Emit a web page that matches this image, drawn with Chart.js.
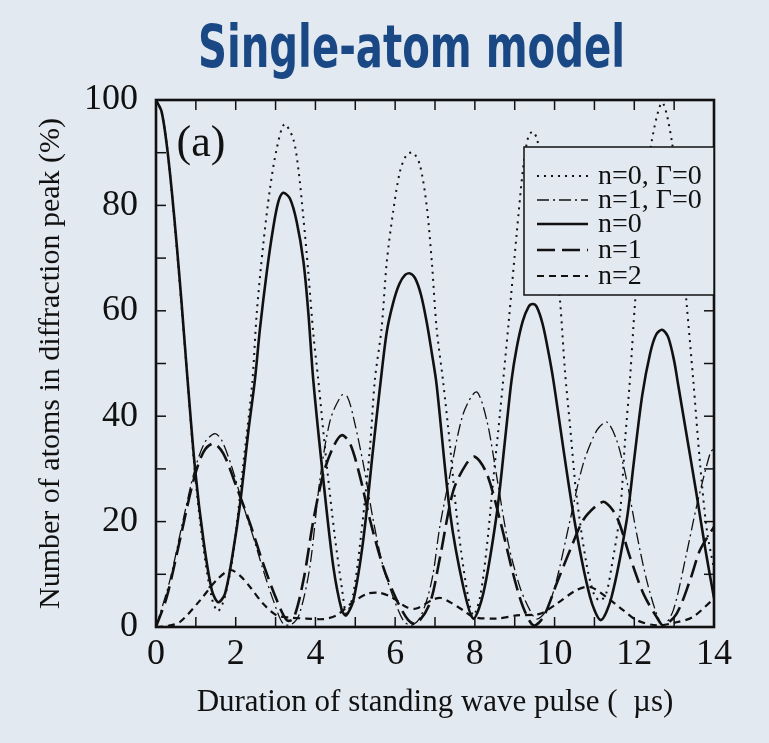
<!DOCTYPE html>
<html><head><meta charset="utf-8">
<script src="https://cdn.jsdelivr.net/npm/chart.js@4.4.1/dist/chart.umd.min.js"></script>
<style>html,body{margin:0;padding:0;background:#e3e9f1;overflow:hidden}canvas{display:block}</style>
</head><body>
<canvas id="c" width="769" height="743"></canvas>
<script>
// ---- text ----
const titleText = "Single-atom model";
const xTitle = "Duration of standing wave pulse (  \u00b5s)";
const yTitle = "Number of atoms in diffraction peak (%)";
const panelLabel = "(a)";
const seriesLabels = ["n=0, \u0393=0", "n=1, \u0393=0", "n=0", "n=1", "n=2"];
const xTickValues = [0, 2, 4, 6, 8, 10, 12, 14];
const yTickValues = [0, 20, 40, 60, 80, 100];

// ---- data (time in µs, percent) ----
const n0G0_t = [0,0.14,0.27,0.39,0.52,0.64,0.77,0.98,1.19,1.4,1.55,1.72,1.94,2.19,2.41,2.53,2.69,2.86,3.03,3.22,3.44,3.57,3.7,3.82,3.95,4.07,4.28,4.49,4.66,4.78,4.95,5.16,5.37,5.49,5.66,5.79,5.95,6.12,6.29,6.45,6.62,6.79,6.92,7.04,7.2,7.38,7.54,7.71,7.88,7.97,8.13,8.3,8.46,8.63,8.85,9.05,9.22,9.34,9.45,9.56,9.8,10.0,10.14,10.26,10.39,10.55,10.8,11.0,11.15,11.3,11.43,11.64,11.77,11.89,12.02,12.2,12.44,12.7,12.94,13.1,13.31,13.48,13.65,13.82,14];
const n0G0_y = [100,97.8,91.5,83,72,61,49,29,15,5.5,3,5.5,14,31,45.9,59.8,72.5,83.2,90.8,95.4,92.7,87,77.5,67.4,55.4,47,31,17,7.6,2.5,6.3,18.4,34.2,46.8,56.7,69.3,78.8,86.4,89.6,90,87.7,80,69.3,56.7,46.8,34.2,21.5,11.4,3.8,2.2,5.7,15.2,27.8,40.5,58,74.7,87.7,93,94,92.6,83,71,61.6,48.6,38,25,12,6,5,6.5,11.4,21.5,35.5,46.8,61.6,78,92.3,99.5,92.3,80,61.6,46.8,31,18.4,11];

const n1G0_t = [0,0.35,0.68,0.98,1.23,1.48,1.65,1.9,2.15,2.44,2.69,2.94,3.19,3.4,3.6,3.86,4.11,4.37,4.66,4.8,4.95,5.2,5.45,5.7,5.95,6.2,6.4,6.6,6.79,6.95,7.12,7.38,7.71,8.04,8.3,8.55,8.84,9.13,9.38,9.55,9.8,10.05,10.39,10.72,11.06,11.31,11.56,11.81,12.06,12.31,12.56,12.73,12.98,13.31,13.56,13.9,14];
const n1G0_y = [0,8.9,20.3,30,35.1,36.7,35.4,30.4,24,17.1,10.8,5.1,0.6,0.5,2.5,11.4,27.8,39.2,44,43.7,39.9,31,20.3,11.4,5.7,1.3,0.3,1.5,5,10,19,29,40.5,44.6,39.2,28.5,15.8,7.6,3.2,1.5,3.2,8.9,20.3,31,37.3,38.9,35.4,27.8,17.7,8.9,2.5,0.3,3.2,13.9,22.8,32.9,34];

const n0_t = [0,0.14,0.27,0.39,0.52,0.64,0.77,0.98,1.19,1.4,1.56,1.73,1.94,2.11,2.32,2.48,2.61,2.78,2.94,3.07,3.19,3.36,3.53,3.7,3.82,3.95,4.2,4.45,4.66,4.77,4.95,5.2,5.45,5.62,5.79,5.95,6.1,6.25,6.37,6.5,6.65,6.8,6.92,7.04,7.38,7.71,7.96,8.21,8.55,8.75,8.92,9.05,9.2,9.35,9.45,9.55,9.7,9.85,9.97,10.47,10.89,11.16,11.43,11.81,12.0,12.2,12.4,12.55,12.7,12.85,13.0,13.1,13.3,13.56,13.8,14];
const n0_y = [100,97.8,91.5,83.2,72.5,61.7,49,30,16.5,7,4.7,6.3,14.6,23.4,37.3,46.8,56.7,67.4,75.7,80.7,82.4,81.3,76.9,69.3,59.8,46.5,27.8,11.4,3.2,2.2,5,16.5,34,45.5,56,61.5,65,66.8,67.1,66.2,63,57.5,52,46,21.5,7.6,1.6,6.3,21.5,35,46.8,53,58,60.8,61.3,60.8,57.5,52,46.8,21.5,5.7,1.3,5.7,20.3,32,44,52,55.5,56.4,55,50.5,46,37,25.3,14,5.5];

const n1_t = [0,0.27,0.6,0.94,1.19,1.44,1.69,2.02,2.36,2.69,3.03,3.28,3.45,3.7,3.95,4.2,4.45,4.66,4.87,5.12,5.37,5.7,6.04,6.33,6.53,6.87,7.12,7.46,7.79,8.0,8.3,8.63,8.96,9.21,9.47,9.72,10.05,10.39,10.72,11.06,11.26,11.56,11.89,12.23,12.56,12.73,13.06,13.4,13.65,14];
const n1_y = [0,5.7,16.5,27.8,33.2,34.8,32.9,26.6,19.6,12,5.1,1.3,1.6,8.9,20.3,29.1,34.2,36.4,34.8,28.5,20.3,11.4,5.1,1.3,0.6,4.5,13,25.9,31,32.3,29.1,20.3,10.1,3.8,0.3,1.9,8.2,14.6,20.3,23.1,23.7,20.9,13.3,6.3,1.9,0.3,2.5,8.9,14.6,19];

const n2_t = [0,0.3,0.6,1.1,1.52,1.86,2.1,2.36,2.69,3.03,3.36,3.78,4.2,4.53,4.9,5.3,5.6,5.9,6.28,6.53,6.95,7.15,7.38,7.7,7.96,8.55,9.05,9.63,10.05,10.55,10.89,11.3,11.72,12.06,12.56,13.06,13.47,14];
const n2_y = [0,0.2,0.95,5,8.9,10.8,9.8,7.6,4.4,2.2,1.8,1.6,1.5,2.2,4.5,6.3,6.5,5.7,3.8,3.5,5.2,5.5,4.7,3.2,1.9,1.6,2.2,2.5,4.4,7,7.6,5.7,3.2,1.3,0.3,0.9,1.9,5.4];

// ---- styling ----
const BG = '#e3e9f1';
const INK = '#111111';
const TITLE_BLUE = '#194884';
const SERIF = '"Liberation Serif", "Times New Roman", serif';
const pts = (t, y) => t.map((v, i) => ({ x: v, y: y[i] }));

function ds(label, t, y, width, dash) {
  return {
    label, data: pts(t, y), borderColor: INK, backgroundColor: INK,
    borderWidth: width, borderDash: dash, pointRadius: 0,
    tension: 0.3, fill: false, borderCapStyle: 'butt'
  };
}

const datasets = [
  ds(seriesLabels[0], n0G0_t, n0G0_y, 2, [2, 5]),
  ds(seriesLabels[1], n1G0_t, n1G0_y, 1.3, [12, 4, 2, 4]),
  ds(seriesLabels[2], n0_t, n0_y, 2.6, []),
  ds(seriesLabels[3], n1_t, n1_y, 2.6, [18, 7]),
  ds(seriesLabels[4], n2_t, n2_y, 2.2, [7, 5])
];

const titlePlugin = {
  id: 'bigTitle',
  afterDraw(chart) {
    const ctx = chart.ctx;
    ctx.save();
    ctx.font = 'bold 58px "DejaVu Sans", sans-serif';
    ctx.fillStyle = TITLE_BLUE;
    ctx.textAlign = 'left';
    ctx.textBaseline = 'alphabetic';
    const w = ctx.measureText(titleText).width;
    const target = 427, left = 198, base = 67;
    ctx.translate(left, base);
    ctx.scale(target / w, 1);
    ctx.fillText(titleText, 0, 0);
    ctx.restore();
  }
};

const framePlugin = {
  id: 'frame',
  afterDatasetsDraw(chart) {
    const { ctx, chartArea: a, scales: { x, y } } = chart;
    ctx.save();
    ctx.strokeStyle = INK;
    ctx.setLineDash([]);
    ctx.lineWidth = 1.5;
    const seg = (x1, y1, x2, y2) => { ctx.beginPath(); ctx.moveTo(x1, y1); ctx.lineTo(x2, y2); ctx.stroke(); };
    for (let v = x.min; v <= x.max; v += 1) {
      const px = x.getPixelForValue(v);
      seg(px, a.bottom, px, a.bottom - 10);
      seg(px, a.top, px, a.top + 10);
    }
    for (let v = y.min; v <= y.max; v += 10) {
      const py = y.getPixelForValue(v);
      seg(a.left, py, a.left + 10, py);
      seg(a.right, py, a.right - 10, py);
    }
    ctx.lineWidth = 2.6;
    ctx.strokeRect(a.left, a.top, a.right - a.left, a.bottom - a.top);

    // panel label
    ctx.fillStyle = INK;
    ctx.font = '44px ' + SERIF;
    ctx.textAlign = 'center';
    ctx.textBaseline = 'middle';
    ctx.fillText(panelLabel, x.getPixelForValue(1.13), y.getPixelForValue(91.5));

    // legend box
    const lx = 524, ly = 147, lw = a.right - lx, lh = 148;
    ctx.fillStyle = BG;
    ctx.fillRect(lx, ly, lw, lh);
    ctx.lineWidth = 1.5;
    ctx.strokeRect(lx, ly, lw, lh);
    const rows = [176, 200, 224, 250, 276];
    ctx.font = '28px ' + SERIF;
    ctx.textAlign = 'left';
    chart.data.datasets.forEach((d, i) => {
      const ry = rows[i];
      ctx.save();
      ctx.strokeStyle = INK;
      ctx.lineWidth = d.borderWidth;
      ctx.setLineDash(d.borderDash || []);
      ctx.lineCap = 'butt';
      seg(537, ry, 588, ry);
      ctx.restore();
      ctx.fillStyle = INK;
      ctx.fillText(d.label, 598, ry + 1);
    });
    ctx.restore();
  }
};

new Chart(document.getElementById('c'), {
  type: 'line',
  data: { datasets },
  plugins: [framePlugin, titlePlugin],
  options: {
    responsive: false,
    animation: false,
    devicePixelRatio: 1,
    layout: { padding: { left: 0, right: 55, top: 100, bottom: 0 } },
    plugins: {
      legend: { display: false },
      tooltip: { enabled: false },
      title: { display: false }
    },
    scales: {
      x: {
        type: 'linear', min: 0, max: 14,
        afterFit: s => { s.height = 116; },
        afterBuildTicks: s => { s.ticks = xTickValues.map(v => ({ value: v })); },
        grid: { display: false, drawTicks: false },
        border: { display: false },
        ticks: { color: INK, font: { family: SERIF, size: 36 }, padding: 6, maxRotation: 0 },
        title: { display: true, text: xTitle, color: INK, font: { family: SERIF, size: 31 }, padding: { top: 0, bottom: 22 } }
      },
      y: {
        type: 'linear', min: 0, max: 100,
        afterFit: s => { s.width = 156; },
        afterBuildTicks: s => { s.ticks = yTickValues.map(v => ({ value: v })); },
        grid: { display: false, drawTicks: false },
        border: { display: false },
        ticks: { color: INK, font: { family: SERIF, size: 36 }, padding: 18 },
        title: { display: true, text: yTitle, color: INK, font: { family: SERIF, size: 30 }, padding: { top: 33, bottom: 0 } }
      }
    }
  }
});
</script>
</body></html>
